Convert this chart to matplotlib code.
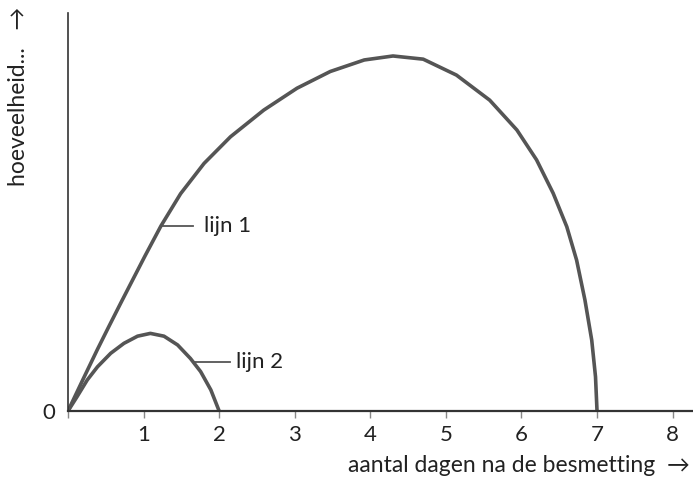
import matplotlib.pyplot as plt
import numpy as np

# curve points (dagen, hoeveelheid in arbitrary units 0-100)
dag_lijn1 = [0, 0.21, 0.39, 0.54, 0.70, 0.83, 1.02, 1.23, 1.49, 1.80, 2.15,
             2.59, 3.03, 3.47, 3.92, 4.30, 4.70, 5.14, 5.58, 5.94, 6.20,
             6.42, 6.60, 6.73, 6.84, 6.93, 6.98, 7.0]
hoev_lijn1 = [0, 8.4, 15.5, 21.2, 27.2, 32.0, 39.0, 46.5, 54.6, 62.2, 68.9,
              75.6, 81.1, 85.3, 88.2, 89.2, 88.4, 84.4, 78.1, 70.6, 63.1,
              54.7, 46.3, 37.9, 27.9, 17.8, 8.6, 0]

dag_lijn2 = [0, 0.12, 0.255, 0.39, 0.565, 0.74, 0.92, 1.09, 1.27, 1.45,
             1.62, 1.755, 1.89, 2.0]
hoev_lijn2 = [0, 3.6, 7.8, 11.1, 14.5, 17.0, 18.8, 19.5, 18.8, 16.6,
              13.2, 9.9, 5.3, 0]

x_ticks = [1, 2, 3, 4, 5, 6, 7, 8]
labels = ["lijn 1", "lijn 2"]
label_anchor = [(1.23, 46.5), (1.65, 12.3)]
leader_len = [0.42, 0.49]

plt.rcParams['font.family'] = ['Lato', 'DejaVu Sans']
line_color = "#555555"
text_color = "#222222"

fig = plt.figure(figsize=(6.93, 4.8), dpi=100)
ax = fig.add_axes([68 / 693, 69 / 480, 1 - 68 / 693, 398 / 480])

ax.plot(dag_lijn1, hoev_lijn1, color=line_color, lw=2.6, solid_joinstyle="round")
ax.plot(dag_lijn2, hoev_lijn2, color=line_color, lw=2.6, solid_joinstyle="round")

# leader lines and labels
for lab, (xa, ya), ll in zip(labels, label_anchor, leader_len):
    ax.plot([xa, xa + ll], [ya, ya], color=line_color, lw=1.3)
    ax.text(xa + 0.575, ya, lab, fontsize=16, va="center", ha="left", color=text_color)

ax.set_xlim(0, 8.27)
ax.set_ylim(0, 100)

ax.spines["top"].set_visible(False)
ax.spines["right"].set_visible(False)
ax.spines["left"].set_color("#333333")
ax.spines["bottom"].set_color("#333333")
ax.spines["left"].set_linewidth(1.2)
ax.spines["bottom"].set_linewidth(1.6)

ax.set_xticks([0] + x_ticks)
ax.set_xticklabels([""] + [str(t) for t in x_ticks], fontsize=16, color=text_color)
ax.tick_params(axis="x", length=5, width=1, color="#888888", pad=5)
ax.set_yticks([0])
ax.set_yticklabels(["0"], fontsize=16, color=text_color)
ax.tick_params(axis="y", length=0, pad=9)

fig.text(690 / 693, 4 / 480, "aantal dagen na de besmetting  \u2192", fontsize=16.5,
         ha="right", va="bottom", color=text_color)
fig.text(19 / 693, 1 - 7 / 480, "hoeveelheid...   \u2192", fontsize=16.5, rotation=90,
         ha="center", va="top", color=text_color)

fig.savefig("out.png", dpi=100)
